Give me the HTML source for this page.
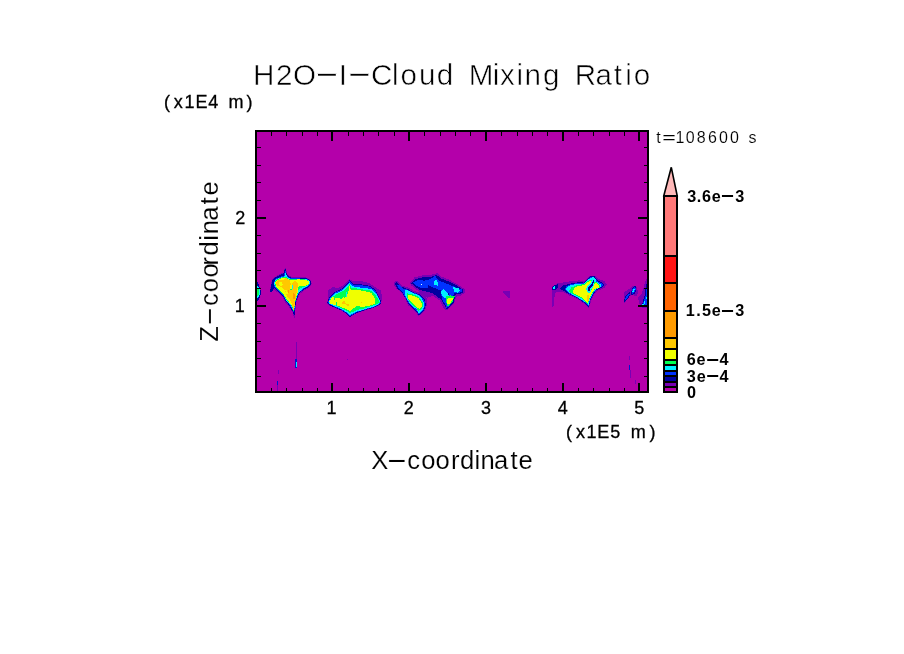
<!DOCTYPE html>
<html><head><meta charset="utf-8"><title>H2O-I-Cloud Mixing Ratio</title>
<style>
html,body{margin:0;padding:0;background:#fff;}
svg{display:block}
text{font-family:"Liberation Sans",sans-serif;fill:#000}
</style></head>
<body>
<svg width="904" height="654" viewBox="0 0 904 654">
<rect width="904" height="654" fill="#fff"/>
<rect fill="#B400AA" x="255.00" y="130.00" width="394.00" height="263.00"/>
<g shape-rendering="crispEdges">
<polygon fill="#0000A0" points="257.0,281.6 258.0,282.2 259.2,285.9 260.7,290.2 261.0,293.9 259.8,297.5 258.3,300.0 257.0,301.2"/>
<polygon fill="#00F0FF" points="257.0,285.3 258.3,286.5 259.8,290.2 260.1,293.9 258.9,296.9 257.0,298.7"/>
<polygon fill="#00FF50" points="257.0,288.7 258.6,289.0 259.2,291.4 258.9,294.5 257.0,296.3"/>
<polygon fill="#7800B4" points="269.8,289.7 270.7,285.8 272.0,279.4 276.2,276.0 280.5,273.8 283.5,272.6 284.4,269.1 285.8,268.3 286.9,273.0 288.6,275.5 291.6,276.8 298.5,276.8 307.5,277.7 311.1,280.7 311.7,283.7 309.2,288.0 304.0,290.5 299.8,293.9 298.1,298.2 296.3,302.5 295.5,309.3 294.9,317.5 293.8,317.5 292.9,312.8 290.4,309.3 287.8,305.1 285.2,302.5 282.7,297.4 279.2,293.9 275.8,290.9 273.7,289.7 272.0,292.2 270.1,292.2"/>
<polygon fill="#0000A0" points="270.1,291.4 270.9,286.2 272.4,280.3 276.2,276.8 280.5,274.7 283.5,273.4 284.4,270.0 285.7,269.1 286.5,273.4 288.2,276.0 291.6,277.7 298.5,277.7 307.0,278.5 310.5,280.7 311.1,283.7 308.7,287.1 303.6,289.7 299.3,293.1 297.6,297.4 295.9,301.6 295.1,308.5 294.6,315.3 293.8,315.3 292.9,311.9 290.8,308.5 288.2,304.2 285.7,301.6 283.1,296.5 279.7,293.1 276.2,289.7 274.1,288.0 272.4,291.4 270.3,291.8"/>
<polygon fill="#0032FF" points="273.5,285.4 273.7,281.5 276.4,278.4 280.9,276.5 283.9,275.8 284.8,271.3 285.7,270.8 286.5,274.7 288.0,277.0 291.6,278.4 298.5,278.4 307.0,279.1 310.0,281.1 310.5,283.7 308.3,286.4 303.6,289.0 299.2,292.4 297.2,296.9 295.6,301.6 294.7,308.5 294.2,313.6 293.3,311.0 291.2,307.6 288.6,303.5 286.1,301.0 283.5,296.1 280.1,292.7 276.7,289.2"/>
<polygon fill="#00F0FF" points="274.0,284.5 274.4,282.0 276.4,279.2 281.4,277.3 284.1,276.8 285.3,273.2 285.9,273.2 286.8,276.1 288.2,277.9 291.6,279.0 298.5,278.7 307.0,279.4 309.8,281.4 309.8,283.8 307.9,285.8 304.0,288.1 300.0,290.7 298.5,293.1 296.8,296.9 295.2,301.6 294.5,308.5 294.0,312.8 293.2,310.2 291.5,306.8 288.9,302.9 286.3,300.4 283.8,295.7 279.8,291.8 276.7,288.4"/>
<polygon fill="#00FF50" points="274.5,284.1 274.8,282.1 276.4,279.8 281.4,277.7 285.7,276.8 288.2,278.5 291.6,279.4 298.5,279.0 307.0,279.7 309.4,281.5 309.3,284.1 305.3,286.4 300.6,289.2 297.8,292.7 296.1,298.2 294.8,304.2 293.9,311.9 293.0,309.3 291.6,305.9 289.1,302.5 286.5,299.9 283.9,295.7 279.7,291.4 276.7,288.0"/>
<polygon fill="#F0FF00" points="275.2,283.8 275.4,282.1 276.7,280.4 281.4,278.4 285.7,277.5 288.2,279.2 291.6,280.1 298.5,279.4 307.0,280.3 308.9,281.7 308.7,283.8 304.5,286.4 300.2,289.0 297.5,292.7 295.7,298.2 294.6,304.2 293.9,310.6 293.1,308.5 291.8,305.5 289.2,302.1 286.8,299.5 284.2,295.2 279.9,290.9 276.9,287.5"/>
<polygon fill="#FFC800" points="275.5,283.1 278.3,280.3 283.9,279.5 286.3,277.9 289.5,280.3 291.0,284.3 295.0,281.1 297.4,281.9 297.8,286.7 296.6,292.2 295.8,297.8 295.0,303.3 293.8,310.5 293.0,308.9 291.8,303.3 289.5,299.4 287.1,296.2 285.5,292.2 283.9,289.0 280.7,286.7 277.5,285.9"/>
<polygon fill="#F0FF00" points="278.7,282.7 281.9,281.9 283.1,285.1 279.9,286.5"/>
<polygon fill="#F0FF00" points="290.1,285.1 291.5,284.4 291.8,289.8 290.2,290.2"/>
<polygon fill="#F0FF00" points="285.1,289.8 287.1,289.8 287.9,293.8 286.3,293.8"/>
<polygon fill="#00FF50" points="297.8,286.8 303.0,285.5 305.3,286.3 301.4,289.2 298.8,291.6 297.6,290.0"/>
<polygon fill="#00F0FF" points="298.2,289.8 303.0,286.8 305.3,286.5 302.2,289.4 299.1,292.1 298.0,292.2"/>
<polygon fill="#FF9B00" points="287.5,290.2 289.3,290.2 289.3,292.6 287.5,292.6"/>
<polygon fill="#FF9B00" points="293.0,293.4 295.0,293.8 295.0,298.6 293.4,299.0"/>
<polygon fill="#00F0FF" points="292.0,284.7 293.0,284.7 293.0,288.6 292.0,288.6"/>
<polygon fill="#00FF50" points="290.1,288.6 291.7,288.6 291.7,289.8 290.1,289.8"/>
<polygon fill="#7800B4" points="328.1,290.5 332.8,286.7 337.1,288.4 344.0,285.0 349.5,279.0 352.5,280.7 360.2,280.7 369.6,283.3 375.6,287.5 380.9,290.5 381.8,295.7 381.4,302.9 379.0,305.5 373.0,308.1 364.5,310.6 356.8,313.2 349.9,317.0 346.5,314.1 341.4,310.6 335.4,308.1 329.4,305.5 327.0,303.8 327.9,298.2"/>
<polygon fill="#0000A0" points="327.3,302.9 329.2,297.4 334.4,292.2 340.4,289.5 345.5,285.2 349.5,280.3 353.5,283.7 360.2,284.1 369.8,285.8 374.9,289.2 378.5,295.7 381.4,302.5 379.2,305.2 373.0,307.8 364.5,310.4 356.8,312.9 349.9,316.9 346.5,313.8 341.4,310.4 335.4,307.8 329.4,305.2"/>
<polygon fill="#0032FF" points="327.9,302.5 329.8,297.4 334.7,292.7 340.7,290.1 345.8,285.8 349.5,281.3 353.4,284.7 360.2,285.0 369.6,286.7 374.7,290.1 378.2,296.1 380.9,302.5 378.9,304.8 372.9,307.4 364.3,309.9 356.8,312.3 349.9,316.0 346.7,313.2 341.4,309.8 335.4,307.2 329.6,304.6"/>
<polygon fill="#00F0FF" points="328.6,302.3 330.7,297.4 335.4,293.5 341.4,290.8 346.5,286.5 349.5,282.7 352.9,286.1 355.9,286.9 364.5,288.1 371.3,289.0 375.6,292.9 378.3,297.4 380.4,302.5 378.3,304.4 372.4,307.0 363.8,309.5 356.8,311.7 349.9,315.1 346.9,312.5 341.4,309.1 335.4,306.5 329.8,304.0"/>
<polygon fill="#00FF50" points="329.2,302.1 331.5,297.4 336.3,294.4 342.2,291.6 347.4,287.3 349.5,284.4 351.7,288.1 355.9,288.3 364.5,289.8 371.5,290.7 374.9,294.1 377.5,298.2 379.6,302.5 377.5,303.9 371.5,306.1 362.9,308.7 356.8,310.0 349.9,313.2 345.7,310.0 340.5,307.9 335.4,305.3 330.7,303.4"/>
<polygon fill="#F0FF00" points="337.1,302.5 339.7,299.1 345.7,297.4 348.2,292.2 349.5,286.1 351.0,290.5 355.9,289.5 364.5,291.2 371.3,292.9 374.7,298.2 374.7,303.5 371.3,305.2 362.8,307.0 356.8,305.9 354.2,307.8 349.9,311.2 345.7,308.7 340.5,307.0 337.1,305.2"/>
<polygon fill="#F0FF00" points="329.0,301.8 332.0,297.5 334.5,296.5 335.6,299.9 333.7,302.7 331.1,303.5"/>
<polygon fill="#F0FF00" points="330.0,300.9 334.0,297.6 337.9,298.2 342.6,297.2 348.2,294.6 348.2,305.9 342.6,307.5 336.6,305.5 332.6,304.5 329.6,303.2"/>
<polygon fill="#00FF50" points="333.8,295.9 334.8,295.9 334.8,299.9 333.8,299.9"/>
<polygon fill="#00FF50" points="336.0,301.9 336.9,301.9 336.9,304.5 336.0,304.5"/>
<polygon fill="#00FF50" points="339.3,297.2 343.3,295.9 343.4,297.9 340.3,299.1"/>
<polygon fill="#00FF50" points="344.0,291.3 345.4,290.9 345.6,297.2 344.3,297.6"/>
<polygon fill="#00F0FF" points="345.8,292.3 347.1,292.3 347.1,296.9 345.8,296.9"/>
<polygon fill="#FFC800" points="370.8,304.0 371.9,304.0 371.9,305.1 370.8,305.1"/>
<polygon fill="#FFC800" points="342.1,301.8 344.8,301.2 345.8,303.5 342.4,304.0"/>
<polygon fill="#FFC800" points="346.3,304.0 348.7,304.2 348.8,305.8 346.7,305.4"/>
<polygon fill="#FFC800" points="360.9,301.8 362.1,301.8 362.1,303.0 360.9,303.0"/>
<polygon fill="#7800B4" points="393.9,282.6 396.8,280.4 401.7,285.3 407.6,287.3 414.4,291.0 421.3,292.9 426.4,297.1 427.6,303.1 425.6,309.2 421.5,314.3 418.4,315.8 414.3,310.4 408.4,305.5 404.5,297.4 401.5,292.6 396.7,288.8 394.2,285.2"/>
<polygon fill="#0000A0" points="394.7,283.6 396.8,282.1 401.7,286.7 407.6,289.0 414.4,292.6 420.5,294.5 425.0,300.0 426.0,305.1 423.5,311.1 418.9,315.2 415.2,310.3 409.4,305.4 405.5,298.4 402.5,293.0 397.1,288.3"/>
<polygon fill="#0032FF" points="396.8,285.0 399.3,285.0 402.7,288.4 407.6,289.6 414.4,293.0 420.1,295.1 424.4,300.4 425.4,305.1 423.1,310.7 418.9,314.4 415.6,309.8 409.8,304.9 405.8,298.2 403.1,292.9 398.8,288.4"/>
<polygon fill="#00F0FF" points="404.7,290.4 407.6,290.2 413.5,293.3 419.3,295.3 423.4,301.2 424.4,306.1 422.3,310.2 418.9,313.1 416.4,309.2 410.5,304.3 406.6,298.4 404.7,294.3"/>
<polygon fill="#00FF50" points="406.6,293.3 413.5,294.6 418.9,296.8 422.5,302.1 423.4,306.1 420.9,309.6 418.4,311.1 416.4,308.2 410.9,303.7 407.4,298.2"/>
<polygon fill="#F0FF00" points="408.1,295.3 413.5,295.6 418.4,298.0 421.5,302.6 422.5,305.6 419.9,308.6 417.9,308.2 412.5,303.3 408.6,299.4"/>
<polygon fill="#7800B4" points="410.0,282.6 414.4,277.5 422.3,275.5 432.1,274.6 437.9,273.0 441.1,276.5 448.7,279.5 457.7,284.3 464.8,289.4 464.8,292.6 460.6,295.7 456.9,295.7 454.0,303.3 448.9,308.4 446.2,310.6 443.1,307.2 439.7,300.4 433.0,295.8 427.2,297.7 420.1,292.6 414.3,287.7 410.8,285.2"/>
<polygon fill="#0000A0" points="411.0,283.1 414.9,279.2 422.3,277.5 432.1,276.5 436.9,275.0 440.9,278.5 448.7,281.4 457.5,285.9 463.2,289.9 463.2,292.1 460.0,294.1 455.7,294.5 453.8,302.3 448.9,307.2 446.7,309.4 444.6,305.3 440.9,299.4 433.0,293.5 427.2,291.8 420.3,290.1 414.4,286.2"/>
<polygon fill="#0032FF" points="412.7,282.8 417.4,280.1 424.2,280.6 429.1,279.6 435.2,275.9 438.9,280.6 446.7,283.6 452.6,286.0 461.9,289.6 461.9,291.9 458.5,293.1 454.1,293.3 452.6,297.3 448.7,293.3 440.9,290.6 433.0,287.5 428.3,285.0 427.4,288.4 422.3,288.4 416.4,285.5"/>
<polygon fill="#0032FF" points="440.9,292.4 444.8,291.4 452.6,296.3 452.6,302.1 448.7,306.5 446.7,308.0 445.3,304.6 442.3,299.7"/>
<polygon fill="#0000A0" points="427.7,285.7 433.0,288.4 440.9,291.4 448.7,293.8 449.7,296.3 440.9,294.3 433.0,292.9 428.6,290.4"/>
<polygon fill="#00F0FF" points="434.0,281.1 436.0,279.6 437.9,282.6 437.5,285.7 434.5,285.1"/>
<polygon fill="#00F0FF" points="453.1,287.0 458.5,288.4 460.0,290.9 457.5,292.6 454.1,291.6"/>
<polygon fill="#00F0FF" points="440.9,291.6 443.3,288.9 447.7,293.3 448.9,296.5 445.0,298.4 441.8,295.5"/>
<polygon fill="#00FF50" points="446.2,296.3 450.6,295.3 454.7,296.3 452.8,301.2 449.9,305.3 447.7,306.2 446.2,302.3"/>
<polygon fill="#F0FF00" points="446.7,299.2 450.6,297.7 453.2,298.2 451.2,302.1 449.3,304.7 447.2,303.3"/>
<polygon fill="#E0FFFF" points="420.8,283.9 422.1,283.9 422.1,285.2 420.8,285.2"/>
<polygon fill="#7800B4" points="502.9,291.0 509.6,291.4 510.1,297.9 508.0,297.9 503.5,293.3"/>
<polygon fill="#7800B4" points="551.7,286.5 557.7,283.4 569.4,281.4 579.2,280.4 584.1,281.4 590.0,275.5 595.1,275.5 598.0,278.5 604.9,281.4 606.8,285.0 603.9,288.2 598.0,290.6 594.1,294.5 591.2,300.4 589.2,307.2 588.0,307.8 584.9,304.3 581.0,301.4 576.1,298.4 569.3,295.5 564.4,292.6 559.7,292.1 554.8,292.6 554.0,306.2 552.1,306.7 551.7,292.4"/>
<polygon fill="#0000A0" points="559.7,288.4 562.6,285.5 570.4,283.6 579.2,282.1 584.1,282.6 590.5,276.2 594.4,276.2 597.3,280.1 602.7,283.1 604.2,285.5 601.7,287.5 596.8,289.9 593.4,293.8 590.5,300.2 588.8,307.0 588.0,307.0 585.6,303.6 581.2,300.7 576.3,297.7 569.4,294.3 564.6,291.4"/>
<polygon fill="#0032FF" points="564.6,289.6 566.0,286.7 570.6,284.3 579.2,282.8 584.3,283.2 590.6,277.2 594.2,277.2 596.8,280.6 602.0,283.4 603.2,285.5 601.2,287.1 596.3,289.6 593.1,293.5 590.2,299.9 588.6,306.1 585.9,303.1 581.4,300.2 576.5,297.3 569.9,293.9"/>
<polygon fill="#00F0FF" points="566.0,288.4 568.5,286.0 576.3,284.0 584.1,283.6 588.0,279.6 592.9,277.2 594.9,277.7 596.3,281.6 600.7,284.5 601.2,287.0 595.9,289.4 592.9,293.3 590.0,299.2 588.5,305.1 586.1,302.6 581.7,299.7 576.3,296.8 570.4,293.3 567.0,290.9"/>
<polygon fill="#00FF50" points="568.5,291.4 571.4,287.5 577.3,285.0 584.1,284.0 588.5,280.6 591.9,279.6 595.4,281.6 599.8,285.0 599.8,287.5 595.4,288.9 592.4,293.3 589.5,299.2 588.0,304.1 586.1,302.1 582.2,298.7 576.3,295.8 570.9,292.9"/>
<polygon fill="#F0FF00" points="572.9,290.4 575.3,287.0 584.1,285.0 588.0,281.6 591.5,281.1 591.0,283.1 587.1,287.0 587.1,290.4 591.0,291.4 593.9,284.5 595.9,282.6 599.3,285.5 598.8,287.5 594.9,288.9 591.9,293.3 589.0,299.2 587.5,303.1 585.1,300.7 582.2,297.3 576.3,294.8 573.4,293.3"/>
<polygon fill="#00F0FF" points="586.1,289.4 587.5,286.0 591.0,282.6 592.9,277.7 594.7,278.7 594.4,283.6 592.9,287.0 591.0,289.6 590.2,292.9 587.5,292.4"/>
<polygon fill="#0000A0" points="588.0,290.4 588.5,287.5 591.9,283.6 593.4,278.7 593.9,282.6 592.4,286.0 590.5,288.4 589.5,291.4"/>
<polygon fill="#F0FF00" points="593.9,285.0 595.9,282.8 599.3,285.5 598.8,287.5 595.1,288.8 593.4,289.6"/>
<polygon fill="#FFC800" points="587.1,295.3 588.5,295.3 588.5,301.2 587.1,301.2"/>
<polygon fill="#0000A0" points="552.0,287.0 554.8,284.8 558.4,284.3 557.9,287.7 554.8,290.1 552.6,290.1"/>
<polygon fill="#00F0FF" points="553.0,287.0 554.8,285.7 555.6,288.0 553.8,289.6"/>
<polygon fill="#7800B4" points="624.2,291.9 629.3,288.9 633.7,285.4 636.1,285.9 637.8,291.1 637.8,294.1 636.1,296.4 632.3,295.0 629.3,296.4 626.4,300.1 624.6,303.0 623.8,299.2"/>
<polygon fill="#0000A0" points="624.1,302.2 624.9,296.3 629.0,292.2 630.4,293.0 630.2,294.8 628.5,297.7 625.8,300.7"/>
<polygon fill="#0032FF" points="624.9,300.3 625.8,296.6 629.2,293.2 629.8,294.2 628.2,296.9 625.8,299.7"/>
<polygon fill="#0000A0" points="630.8,294.1 631.9,288.6 635.1,285.9 636.4,287.5 636.2,290.4 634.9,293.3 632.3,295.0"/>
<polygon fill="#0032FF" points="631.5,293.2 632.6,289.1 635.1,286.9 635.8,288.9 634.5,292.3 632.4,293.9"/>
<polygon fill="#00F0FF" points="632.3,291.9 633.0,289.3 634.8,288.6 634.5,290.4 633.0,292.6"/>
<polygon fill="#7800B4" points="647.3,277.6 645.5,280.9 644.0,286.0 641.8,293.3 638.2,297.0 638.9,303.6 641.8,307.4 644.0,308.2 647.3,307.4"/>
<polygon fill="#0000A0" points="647.3,281.6 645.9,286.0 644.9,294.8 642.9,300.7 642.0,305.1 644.0,307.4 647.3,306.9"/>
<polygon fill="#0032FF" points="647.3,288.2 646.2,289.7 645.6,295.5 644.0,300.0 642.9,303.6 644.0,305.8 647.3,305.8"/>
<polygon fill="#00F0FF" points="643.9,301.4 644.9,300.7 644.9,303.6 643.9,304.4"/>
<polygon fill="#00F0FF" points="645.9,297.4 647.0,297.4 647.0,299.2 645.9,299.2"/>
<polygon fill="#00F0FF" points="642.2,303.6 644.0,303.6 644.0,304.8 642.2,304.8"/>
<rect fill="#7800B4" x="296.00" y="342.00" width="1.00" height="17.00"/>
<rect fill="#0014D2" x="295.00" y="359.00" width="2.00" height="9.00"/>
<rect fill="#00F0FF" x="295.50" y="361.50" width="1.50" height="5.00"/>
<rect fill="#7800B4" x="278.00" y="370.00" width="1.00" height="4.00"/>
<rect fill="#0014D2" x="277.00" y="380.50" width="1.00" height="5.00"/>
<rect fill="#7800B4" x="277.00" y="385.00" width="1.00" height="6.00"/>
<rect fill="#7800B4" x="347.00" y="359.00" width="1.00" height="1.00"/>
<rect fill="#7800B4" x="629.00" y="356.00" width="1.00" height="4.00"/>
<rect fill="#0014D2" x="629.00" y="365.00" width="1.00" height="5.00"/>
<rect fill="#7800B4" x="629.50" y="370.00" width="1.00" height="8.00"/>
<rect fill="#7800B4" x="635.00" y="380.00" width="1.00" height="4.00"/>
</g>
<g fill="#000" shape-rendering="crispEdges">
<rect fill="#000" x="255.00" y="130.00" width="394.00" height="2.00"/>
<rect fill="#000" x="255.00" y="391.00" width="394.00" height="2.00"/>
<rect fill="#000" x="255.00" y="130.00" width="2.00" height="263.00"/>
<rect fill="#000" x="647.00" y="130.00" width="2.00" height="263.00"/>
<rect fill="#000" x="271.00" y="388.00" width="1.00" height="3.00"/>
<rect fill="#000" x="271.00" y="132.00" width="1.00" height="4.00"/>
<rect fill="#000" x="286.00" y="388.00" width="1.00" height="3.00"/>
<rect fill="#000" x="286.00" y="132.00" width="1.00" height="4.00"/>
<rect fill="#000" x="302.00" y="388.00" width="1.00" height="3.00"/>
<rect fill="#000" x="302.00" y="132.00" width="1.00" height="4.00"/>
<rect fill="#000" x="317.00" y="388.00" width="1.00" height="3.00"/>
<rect fill="#000" x="317.00" y="132.00" width="1.00" height="4.00"/>
<rect fill="#000" x="331.00" y="383.00" width="2.00" height="8.00"/>
<rect fill="#000" x="331.00" y="132.00" width="2.00" height="9.00"/>
<rect fill="#000" x="348.00" y="388.00" width="1.00" height="3.00"/>
<rect fill="#000" x="348.00" y="132.00" width="1.00" height="4.00"/>
<rect fill="#000" x="363.00" y="388.00" width="1.00" height="3.00"/>
<rect fill="#000" x="363.00" y="132.00" width="1.00" height="4.00"/>
<rect fill="#000" x="378.00" y="388.00" width="1.00" height="3.00"/>
<rect fill="#000" x="378.00" y="132.00" width="1.00" height="4.00"/>
<rect fill="#000" x="394.00" y="388.00" width="1.00" height="3.00"/>
<rect fill="#000" x="394.00" y="132.00" width="1.00" height="4.00"/>
<rect fill="#000" x="408.00" y="383.00" width="2.00" height="8.00"/>
<rect fill="#000" x="408.00" y="132.00" width="2.00" height="9.00"/>
<rect fill="#000" x="424.00" y="388.00" width="1.00" height="3.00"/>
<rect fill="#000" x="424.00" y="132.00" width="1.00" height="4.00"/>
<rect fill="#000" x="440.00" y="388.00" width="1.00" height="3.00"/>
<rect fill="#000" x="440.00" y="132.00" width="1.00" height="4.00"/>
<rect fill="#000" x="455.00" y="388.00" width="1.00" height="3.00"/>
<rect fill="#000" x="455.00" y="132.00" width="1.00" height="4.00"/>
<rect fill="#000" x="470.00" y="388.00" width="1.00" height="3.00"/>
<rect fill="#000" x="470.00" y="132.00" width="1.00" height="4.00"/>
<rect fill="#000" x="485.00" y="383.00" width="2.00" height="8.00"/>
<rect fill="#000" x="485.00" y="132.00" width="2.00" height="9.00"/>
<rect fill="#000" x="501.00" y="388.00" width="1.00" height="3.00"/>
<rect fill="#000" x="501.00" y="132.00" width="1.00" height="4.00"/>
<rect fill="#000" x="517.00" y="388.00" width="1.00" height="3.00"/>
<rect fill="#000" x="517.00" y="132.00" width="1.00" height="4.00"/>
<rect fill="#000" x="532.00" y="388.00" width="1.00" height="3.00"/>
<rect fill="#000" x="532.00" y="132.00" width="1.00" height="4.00"/>
<rect fill="#000" x="547.00" y="388.00" width="1.00" height="3.00"/>
<rect fill="#000" x="547.00" y="132.00" width="1.00" height="4.00"/>
<rect fill="#000" x="562.00" y="383.00" width="2.00" height="8.00"/>
<rect fill="#000" x="562.00" y="132.00" width="2.00" height="9.00"/>
<rect fill="#000" x="578.00" y="388.00" width="1.00" height="3.00"/>
<rect fill="#000" x="578.00" y="132.00" width="1.00" height="4.00"/>
<rect fill="#000" x="593.00" y="388.00" width="1.00" height="3.00"/>
<rect fill="#000" x="593.00" y="132.00" width="1.00" height="4.00"/>
<rect fill="#000" x="609.00" y="388.00" width="1.00" height="3.00"/>
<rect fill="#000" x="609.00" y="132.00" width="1.00" height="4.00"/>
<rect fill="#000" x="624.00" y="388.00" width="1.00" height="3.00"/>
<rect fill="#000" x="624.00" y="132.00" width="1.00" height="4.00"/>
<rect fill="#000" x="638.00" y="383.00" width="2.00" height="8.00"/>
<rect fill="#000" x="638.00" y="132.00" width="2.00" height="9.00"/>
<rect fill="#000" x="257.00" y="376.00" width="4.00" height="1.00"/>
<rect fill="#000" x="644.00" y="376.00" width="3.00" height="1.00"/>
<rect fill="#000" x="257.00" y="358.00" width="4.00" height="1.00"/>
<rect fill="#000" x="644.00" y="358.00" width="3.00" height="1.00"/>
<rect fill="#000" x="257.00" y="341.00" width="4.00" height="1.00"/>
<rect fill="#000" x="644.00" y="341.00" width="3.00" height="1.00"/>
<rect fill="#000" x="257.00" y="323.00" width="4.00" height="1.00"/>
<rect fill="#000" x="644.00" y="323.00" width="3.00" height="1.00"/>
<rect fill="#000" x="257.00" y="305.00" width="9.00" height="2.00"/>
<rect fill="#000" x="638.00" y="305.00" width="9.00" height="2.00"/>
<rect fill="#000" x="257.00" y="288.00" width="4.00" height="1.00"/>
<rect fill="#000" x="644.00" y="288.00" width="3.00" height="1.00"/>
<rect fill="#000" x="257.00" y="270.00" width="4.00" height="1.00"/>
<rect fill="#000" x="644.00" y="270.00" width="3.00" height="1.00"/>
<rect fill="#000" x="257.00" y="253.00" width="4.00" height="1.00"/>
<rect fill="#000" x="644.00" y="253.00" width="3.00" height="1.00"/>
<rect fill="#000" x="257.00" y="235.00" width="4.00" height="1.00"/>
<rect fill="#000" x="644.00" y="235.00" width="3.00" height="1.00"/>
<rect fill="#000" x="257.00" y="217.00" width="9.00" height="2.00"/>
<rect fill="#000" x="638.00" y="217.00" width="9.00" height="2.00"/>
<rect fill="#000" x="257.00" y="200.00" width="4.00" height="1.00"/>
<rect fill="#000" x="644.00" y="200.00" width="3.00" height="1.00"/>
<rect fill="#000" x="257.00" y="182.00" width="4.00" height="1.00"/>
<rect fill="#000" x="644.00" y="182.00" width="3.00" height="1.00"/>
<rect fill="#000" x="257.00" y="165.00" width="4.00" height="1.00"/>
<rect fill="#000" x="644.00" y="165.00" width="3.00" height="1.00"/>
<rect fill="#000" x="257.00" y="147.00" width="4.00" height="1.00"/>
<rect fill="#000" x="644.00" y="147.00" width="3.00" height="1.00"/>
</g>
<g shape-rendering="crispEdges">
<rect fill="#B400AA" x="663.00" y="386.20" width="15.00" height="5.40"/>
<rect fill="#7800B4" x="663.00" y="380.70" width="15.00" height="5.50"/>
<rect fill="#0000A0" x="663.00" y="375.30" width="15.00" height="5.40"/>
<rect fill="#0032FF" x="663.00" y="369.80" width="15.00" height="5.50"/>
<rect fill="#00F0FF" x="663.00" y="364.40" width="15.00" height="5.40"/>
<rect fill="#00FF50" x="663.00" y="359.00" width="15.00" height="5.40"/>
<rect fill="#F0FF00" x="663.00" y="348.10" width="15.00" height="10.90"/>
<rect fill="#FFC800" x="663.00" y="337.20" width="15.00" height="10.90"/>
<rect fill="#FF9B00" x="663.00" y="310.00" width="15.00" height="27.20"/>
<rect fill="#FF6400" x="663.00" y="282.80" width="15.00" height="27.20"/>
<rect fill="#FF1414" x="663.00" y="255.60" width="15.00" height="27.20"/>
<rect fill="#FF7878" x="663.00" y="195.80" width="15.00" height="59.80"/>
</g>
<polygon fill="#FFB9B9" stroke="#000" stroke-width="1.6" stroke-linejoin="miter" points="663.8,195.8 677.2,195.8 671.3,167.3"/>
<g shape-rendering="crispEdges">
<rect fill="#000" x="663.00" y="391.00" width="15.00" height="2.00"/>
<rect fill="#000" x="663.00" y="386.00" width="15.00" height="2.00"/>
<rect fill="#000" x="663.00" y="381.00" width="15.00" height="2.00"/>
<rect fill="#000" x="663.00" y="375.00" width="15.00" height="2.00"/>
<rect fill="#000" x="663.00" y="370.00" width="15.00" height="2.00"/>
<rect fill="#000" x="663.00" y="364.00" width="15.00" height="2.00"/>
<rect fill="#000" x="663.00" y="359.00" width="15.00" height="2.00"/>
<rect fill="#000" x="663.00" y="348.00" width="15.00" height="2.00"/>
<rect fill="#000" x="663.00" y="337.00" width="15.00" height="2.00"/>
<rect fill="#000" x="663.00" y="310.00" width="15.00" height="2.00"/>
<rect fill="#000" x="663.00" y="282.00" width="15.00" height="2.00"/>
<rect fill="#000" x="663.00" y="255.00" width="15.00" height="2.00"/>
<rect fill="#000" x="663.00" y="195.00" width="15.00" height="2.00"/>
<rect fill="#000" x="663.00" y="195.00" width="2.00" height="198.00"/>
<rect fill="#000" x="676.00" y="195.00" width="2.00" height="198.00"/>
</g>
<text y="84.6" font-size="29.60" font-weight="normal" stroke="#fff" stroke-width="0.55"><tspan x="253.10 275.97 293.10">H2O</tspan><tspan x="313.89" dy="-1.14" textLength="26.33" lengthAdjust="spacingAndGlyphs">-</tspan><tspan x="338.74" dy="1.14">I</tspan><tspan x="346.39" dy="-1.14" textLength="26.33" lengthAdjust="spacingAndGlyphs">-</tspan><tspan x="371.12 392.10 400.52 419.09 436.80 453.30 468.77 492.77 500.04 516.52 524.45 543.10 559.60 574.63 595.44 613.77 625.17 633.72" dy="1.14">Cloud Mixing Ratio</tspan></text>
<text y="108.2" font-size="18.00" font-weight="normal" stroke="#000" stroke-width="0.30"><tspan x="163.95 173.65 184.40 195.50 208.30 220.00 228.55 246.51">(x1E4 m)</tspan></text>
<text y="437.9" font-size="18.00" font-weight="normal" stroke="#000" stroke-width="0.30"><tspan x="565.90 575.90 586.55 597.25 610.31 622.00 630.75 649.41">(x1E5 m)</tspan></text>
<text y="414.4" font-size="18.00" font-weight="normal" stroke="#000" stroke-width="0.30"><tspan x="326.50">1</tspan></text>
<text y="414.4" font-size="18.00" font-weight="normal" stroke="#000" stroke-width="0.30"><tspan x="403.79">2</tspan></text>
<text y="414.4" font-size="18.00" font-weight="normal" stroke="#000" stroke-width="0.30"><tspan x="481.10">3</tspan></text>
<text y="414.4" font-size="18.00" font-weight="normal" stroke="#000" stroke-width="0.30"><tspan x="557.75">4</tspan></text>
<text y="414.4" font-size="18.00" font-weight="normal" stroke="#000" stroke-width="0.30"><tspan x="634.26">5</tspan></text>
<text y="223.8" font-size="18.00" font-weight="normal" stroke="#000" stroke-width="0.30"><tspan x="235.19">2</tspan></text>
<text y="311.9" font-size="18.00" font-weight="normal" stroke="#000" stroke-width="0.30"><tspan x="234.80">1</tspan></text>
<text y="142.6" font-size="16.00" font-weight="normal" stroke="#fff" stroke-width="0.12"><tspan x="656.36">t</tspan><tspan x="662.16" textLength="13.58" lengthAdjust="spacingAndGlyphs">=</tspan><tspan x="675.53 685.85 696.85 707.90 718.90 730.05 740.70 748.62">108600 s</tspan></text>
<text y="201.6" font-size="16.20" font-weight="bold"><tspan x="687.35 696.71 702.04 711.76">3.6e</tspan><tspan x="720.29" dy="-1.20" textLength="14.56" lengthAdjust="spacingAndGlyphs">-</tspan><tspan x="735.20" dy="1.20">3</tspan></text>
<text y="315.8" font-size="16.20" font-weight="bold"><tspan x="685.86 696.36 702.02 711.76">1.5e</tspan><tspan x="720.29" dy="-1.20" textLength="14.56" lengthAdjust="spacingAndGlyphs">-</tspan><tspan x="735.20" dy="1.20">3</tspan></text>
<text y="364.7" font-size="16.20" font-weight="bold"><tspan x="686.64 696.56">6e</tspan><tspan x="705.41" dy="-1.20" textLength="14.43" lengthAdjust="spacingAndGlyphs">-</tspan><tspan x="719.47" dy="1.20">4</tspan></text>
<text y="381.6" font-size="16.20" font-weight="bold"><tspan x="686.85 696.66">3e</tspan><tspan x="705.41" dy="-1.20" textLength="14.43" lengthAdjust="spacingAndGlyphs">-</tspan><tspan x="719.47" dy="1.20">4</tspan></text>
<text y="397.6" font-size="16.20" font-weight="bold"><tspan x="687.11">0</tspan></text>
<text y="468.6" font-size="25.60" font-weight="normal" stroke="#fff" stroke-width="0.15"><tspan x="371.14">X</tspan><tspan x="385.99" dy="-0.70" textLength="21.82" lengthAdjust="spacingAndGlyphs">-</tspan><tspan x="407.19 421.13 435.58 450.90 459.92 474.56 480.61 493.99 510.39 518.61" dy="0.70">coordinate</tspan></text>
<text y="0.0" font-size="25.60" font-weight="normal" stroke="#fff" stroke-width="0.15" transform="translate(217.9,339.5) rotate(-90)"><tspan x="-2.17">Z</tspan><tspan x="12.91" dy="-1.00" textLength="20.19" lengthAdjust="spacingAndGlyphs">-</tspan><tspan x="33.64 47.38 61.98 74.05 84.12 98.81 105.16 118.74 135.14 144.11" dy="1.00">coordinate</tspan></text>
</svg>
</body></html>
